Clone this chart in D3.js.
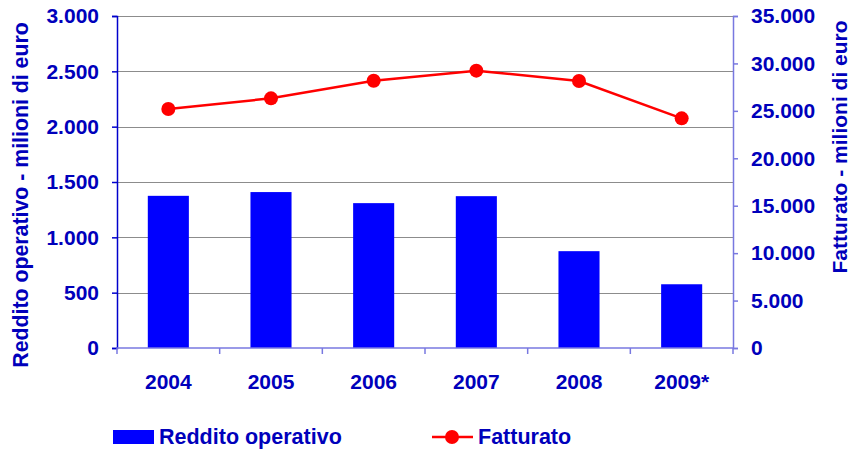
<!DOCTYPE html>
<html>
<head>
<meta charset="utf-8">
<script src="https://cdn.jsdelivr.net/npm/d3@7"></script>
<style>
  body{margin:0;background:#fff;}
  text{font-family:Arial,"Liberation Sans",sans-serif;font-weight:bold;fill:#0000bb;}
</style>
</head>
<body>
<div id="chart"></div>
<script>
var years = ["2004","2005","2006","2007","2008","2009*"];
var reddito = [1375,1409,1309,1372,875,576];
var fatturato = [25200,26320,28180,29240,28150,24210];
var leftTicks = [0,500,1000,1500,2000,2500,3000];
var rightTicks = [0,5000,10000,15000,20000,25000,30000,35000];

var width=853, height=452;
var plotLeft=117, plotRight=733, plotTop=16, plotBottom=348;
var fmt = function(d){ return d3.format(",")(d).replace(/,/g,"."); };

var svg = d3.select("#chart").append("svg")
    .attr("width",width)
    .attr("height",height);

var xScale = d3.scaleBand()
    .domain(years)
    .range([plotLeft,plotRight]);

var yLeft = d3.scaleLinear()
    .domain([0,3000])
    .range([plotBottom,plotTop]);

var yRight = d3.scaleLinear()
    .domain([0,35000])
    .range([plotBottom,plotTop]);

// gridlines
svg.append("g")
    .selectAll("line")
    .data(leftTicks.slice(1))
    .enter()
    .append("line")
    .attr("x1",plotLeft).attr("x2",plotRight)
    .attr("y1",d=>Math.round(yLeft(d))+0.5)
    .attr("y2",d=>Math.round(yLeft(d))+0.5)
    .attr("stroke","#8c8c8c")
    .attr("stroke-width",1);

// bars
var barW = xScale.bandwidth()*0.4;
svg.append("g")
    .selectAll("rect")
    .data(reddito)
    .enter()
    .append("rect")
    .attr("fill","#0000ff")
    .attr("x",(d,i)=>xScale(years[i])+xScale.bandwidth()/2-barW/2)
    .attr("y",d=>yLeft(d))
    .attr("width",barW)
    .attr("height",d=>plotBottom-yLeft(d));

// left axis
var yAxisL = d3.axisLeft(yLeft).tickValues(leftTicks).tickSize(5).tickPadding(13).tickFormat(fmt);
var gl = svg.append("g")
    .attr("transform","translate("+plotLeft+",0)")
    .call(yAxisL);
gl.select(".domain").attr("stroke","#0000cc").attr("stroke-width",1.5);
gl.selectAll(".tick line").attr("stroke","#0000cc").attr("stroke-width",1.5);
gl.selectAll("text").attr("font-size",21).attr("fill","#0000bb");

// right axis
var yAxisR = d3.axisRight(yRight).tickValues(rightTicks).tickSize(5).tickPadding(13).tickFormat(fmt);
var gr = svg.append("g")
    .attr("transform","translate("+plotRight+",0)")
    .call(yAxisR);
gr.select(".domain").attr("stroke","#7878e0").attr("stroke-width",1.5);
gr.selectAll(".tick line").attr("stroke","#7878e0").attr("stroke-width",1.5);
gr.selectAll("text").attr("font-size",21).attr("fill","#0000bb");
gl.attr("font-family",null); gr.attr("font-family",null);

// x axis
var gx = svg.append("g")
    .attr("transform","translate(0,"+plotBottom+")");
gx.append("line")
    .attr("x1",plotLeft).attr("x2",plotRight)
    .attr("y1",0).attr("y2",0)
    .attr("stroke","#7878e0").attr("stroke-width",1.5);
gx.selectAll(".xtick")
    .data(years.concat(["end"]))
    .enter()
    .append("line")
    .attr("x1",(d,i)=>plotLeft+i*xScale.step())
    .attr("x2",(d,i)=>plotLeft+i*xScale.step())
    .attr("y1",0).attr("y2",6)
    .attr("stroke","#7878e0").attr("stroke-width",1.5);
gx.selectAll("text")
    .data(years)
    .enter()
    .append("text")
    .attr("x",d=>xScale(d)+xScale.bandwidth()/2)
    .attr("y",41)
    .attr("text-anchor","middle")
    .attr("font-size",21)
    .text(d=>d);

// line
var line = d3.line()
    .x((d,i)=>xScale(years[i])+xScale.bandwidth()/2)
    .y(d=>yRight(d));
svg.append("path")
    .datum(fatturato)
    .attr("fill","none")
    .attr("stroke","#ff0000")
    .attr("stroke-width",2.5)
    .attr("d",line);
svg.append("g")
    .selectAll("circle")
    .data(fatturato)
    .enter()
    .append("circle")
    .attr("cx",(d,i)=>xScale(years[i])+xScale.bandwidth()/2)
    .attr("cy",d=>yRight(d))
    .attr("r",7)
    .attr("fill","#ff0000");

// axis titles
svg.append("text")
    .attr("transform","translate(28,195) rotate(-90)")
    .attr("text-anchor","middle")
    .attr("font-size",21.3)
    .text("Reddito operativo - milioni di euro");
svg.append("text")
    .attr("transform","translate(847,147) rotate(-90)")
    .attr("text-anchor","middle")
    .attr("font-size",21)
    .text("Fatturato - milioni di euro");

// legend
var lg = svg.append("g");
lg.append("rect")
    .attr("x",113).attr("y",430)
    .attr("width",41).attr("height",14)
    .attr("fill","#0000ff");
lg.append("text")
    .attr("x",159).attr("y",444)
    .attr("font-size",21.5)
    .text("Reddito operativo");
lg.append("line")
    .attr("x1",432).attr("x2",473)
    .attr("y1",437).attr("y2",437)
    .attr("stroke","#ff0000").attr("stroke-width",2.5);
lg.append("circle")
    .attr("cx",452).attr("cy",437).attr("r",7)
    .attr("fill","#ff0000");
lg.append("text")
    .attr("x",478).attr("y",444)
    .attr("font-size",21.5)
    .text("Fatturato");
</script>
</body>
</html>
